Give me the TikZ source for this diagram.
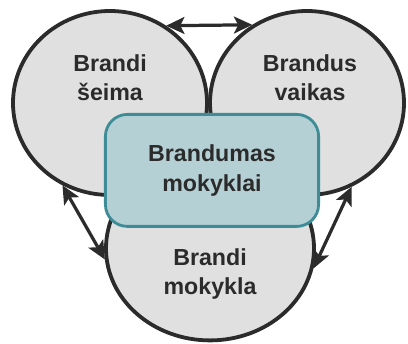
\documentclass[tikz,border=0pt]{standalone}
\usepackage{fontspec}
\setmainfont{Liberation Sans}
\usetikzlibrary{positioning, arrows.meta, shapes.geometric}
\definecolor{ringfill}{HTML}{E0E0E0}
\definecolor{ringline}{HTML}{2B2B2B}
\definecolor{corefill}{HTML}{B5D0D5}
\definecolor{coreline}{HTML}{3D8C96}
\begin{document}
\begin{tikzpicture}
		\tikzstyle{ring} = [shape=ellipse, draw=ringline, line width=2.7pt, fill=ringfill, minimum width=4.85cm, minimum height=4.6cm]
		\tikzstyle{core} = [draw=coreline, line width=2pt, fill=corefill, rounded corners=0.55cm, minimum width=5.33cm, minimum height=2.8cm, align=center]
		\tikzstyle{lbl} = [align=center, font=\bfseries\fontsize{16.5}{21}\selectfont, text=ringline]
		\tikzstyle{link} = [{Stealth[length=13pt,width=12pt,inset=3pt]}-{Stealth[length=13pt,width=12pt,inset=3pt]}, line width=2.3pt, draw=ringline]
		\useasboundingbox (0,0) rectangle (10.2,-8.575);
		\node [ring] (seima) at (2.75,-2.575) {};
		\node [ring] (vaikas) at (7.675,-2.575) {};
		\node [ring, minimum width=5.2cm] (mokykla) at (5.25,-6.21) {};
		\node [lbl] (seima_txt) at (2.75,-1.94) {Brandi\\šeima};
		\node [lbl] (vaikas_txt) at (7.75,-1.94) {Brandus\\vaikas};
		\node [lbl] (mokykla_txt) at (5.25,-6.85) {Brandi\\mokykla};
		\node [core, lbl] (brandumas) at (5.3,-4.26) {Brandumas\\mokyklai};
		\draw [link] (seima.54) -- (vaikas.125);
		\draw [link] (seima.240) -- (mokykla.186);
		\draw [link] (vaikas.298) -- (mokykla.349);
\end{tikzpicture}
\end{document}
